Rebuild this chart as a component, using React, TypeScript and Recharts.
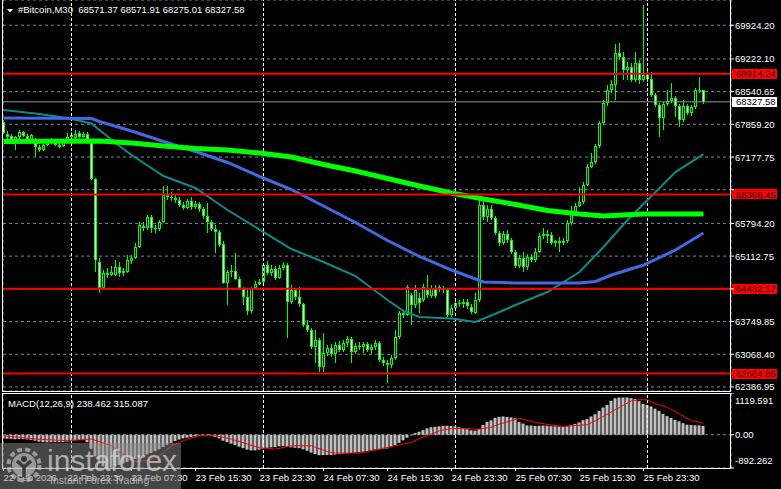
import { Bar, CartesianGrid, ComposedChart, Line, ReferenceLine, XAxis, YAxis } from "recharts";

const FONT = "'Liberation Sans', Arial, sans-serif";
const LIME = "#00ff00";
const GRID = "#778899";

// M30 bars, 22 Feb 15:30 .. 26 Feb 02:30
const OPEN = [67908, 67657, 67616, 67532, 67595, 67699, 67616, 67532, 67470, 67387, 67324, 67428, 67491, 67512, 67428, 67407, 67491, 67595, 67574, 67678, 67605, 67657, 67532, 66720, 64990, 64448, 64761, 64719, 64719, 64886, 64761, 64782, 65011, 65073, 65302, 65740, 65698, 65928, 65698, 65678, 65823, 66386, 66345, 66324, 66282, 66178, 66115, 66261, 66136, 66199, 66094, 65949, 65823, 65678, 65615, 65365, 64552, 64782, 64802, 64636, 64427, 64260, 63969, 64448, 64531, 64573, 64927, 64761, 64844, 64657, 64865, 64927, 64156, 64406, 64260, 64115, 63677, 63573, 63219, 63364, 62802, 63094, 63198, 63073, 63260, 63156, 63302, 63385, 63114, 63239, 63219, 63281, 63156, 63219, 63302, 62948, 62885, 62843, 62989, 63427, 63927, 63885, 64302, 64094, 64240, 64198, 64406, 64281, 64448, 64406, 64448, 64406, 63885, 64031, 64136, 64115, 64156, 64052, 63927, 64198, 66178, 65928, 66094, 65907, 65594, 65386, 65573, 65448, 65198, 64907, 65073, 64886, 65094, 65032, 65198, 65532, 65573, 65553, 65386, 65428, 65386, 65428, 65803, 66011, 66157, 66240, 66595, 66970, 67074, 67407, 67887, 68304, 68574, 68679, 69345, 69262, 68991, 69054, 68783, 69137, 68783, 68887, 68804, 68470, 68262, 67991, 68283, 68345, 68408, 68241, 67949, 68241, 68095, 68220, 68574, 68571.37];
const HIGH = [67949, 67710, 67657, 67616, 67741, 67720, 67657, 67657, 67574, 67428, 67449, 67532, 67574, 67553, 67491, 67532, 67678, 67699, 67741, 67720, 67699, 67699, 67553, 66740, 65073, 64823, 64865, 64907, 65032, 64990, 64865, 65136, 65136, 65386, 65823, 65823, 65969, 65969, 65761, 65865, 66574, 66574, 66449, 66407, 66345, 66240, 66303, 66345, 66261, 66240, 66136, 66220, 65865, 65761, 65657, 65428, 64823, 64927, 65178, 64677, 64469, 64448, 64469, 64594, 64636, 64969, 65011, 64927, 64907, 64927, 64990, 64969, 64511, 64448, 64469, 64136, 63781, 63615, 63573, 63406, 63510, 63260, 63281, 63323, 63344, 63364, 63448, 63427, 63302, 63323, 63323, 63323, 63281, 63364, 63344, 63010, 62948, 63052, 63573, 63969, 63990, 64511, 64344, 64511, 64344, 64531, 64719, 64511, 64511, 64511, 64490, 64448, 64094, 64198, 64198, 64219, 64219, 64115, 64344, 66282, 66261, 66178, 66178, 65949, 65636, 65636, 65657, 65490, 65240, 65136, 65198, 65157, 65157, 65282, 65594, 65698, 65657, 65615, 65448, 65511, 65490, 65865, 66157, 66220, 66553, 66657, 67032, 67262, 67449, 67928, 68366, 68679, 68783, 69533, 69554, 69366, 69158, 69137, 69366, 69200, 70346, 68991, 68950, 68512, 68304, 68324, 68574, 68720, 68449, 68283, 68366, 68283, 68262, 68616, 68845, 68571.91];
const LOW = [67657, 67501, 67512, 67324, 67553, 67595, 67512, 67512, 67184, 67282, 67303, 67407, 67449, 67407, 67366, 67387, 67470, 67532, 67553, 67574, 67574, 67491, 66699, 64782, 64344, 64406, 64657, 64698, 64698, 64677, 64698, 64761, 64948, 65052, 65282, 65636, 65657, 65594, 65594, 65636, 65803, 66282, 66261, 66220, 66136, 66074, 66094, 66074, 66094, 66032, 65886, 65594, 65636, 65178, 65302, 64531, 64094, 64677, 64615, 64406, 64094, 63885, 63927, 64427, 64511, 64552, 64719, 64698, 64615, 64636, 64823, 63406, 64115, 64198, 64052, 63635, 63531, 63177, 62885, 62698, 62698, 63031, 63010, 62885, 63114, 63114, 63219, 62885, 63073, 63156, 63094, 63114, 63073, 63156, 62906, 62823, 62468, 62781, 62948, 63385, 63823, 63865, 63677, 64031, 63927, 64156, 64240, 64240, 64240, 64365, 64344, 63844, 63844, 63990, 64052, 64031, 64010, 63906, 63906, 64156, 65865, 65823, 65865, 65553, 65323, 65344, 65386, 65157, 64865, 64865, 64782, 64823, 64990, 64990, 65178, 65469, 65386, 65344, 65302, 65198, 65344, 65386, 65761, 65990, 66136, 66199, 66574, 66949, 67032, 67366, 67845, 68241, 68512, 68366, 69200, 68783, 68783, 68741, 68741, 68699, 68741, 68741, 68429, 68220, 67595, 67741, 68241, 68304, 68012, 67803, 67908, 68053, 68033, 68178, 68512, 68275.01];
const CLOSE = [67678, 67605, 67532, 67595, 67699, 67616, 67532, 67637, 67397, 67324, 67428, 67491, 67532, 67428, 67397, 67491, 67595, 67637, 67668, 67605, 67657, 67532, 66720, 65032, 64448, 64761, 64719, 64782, 64886, 64761, 64802, 65032, 65073, 65302, 65761, 65698, 65928, 65698, 65678, 65823, 66386, 66345, 66324, 66282, 66178, 66115, 66261, 66136, 66199, 66094, 65949, 65823, 65678, 65615, 65344, 64552, 64782, 64802, 64636, 64448, 64260, 63969, 64448, 64531, 64573, 64927, 64761, 64844, 64657, 64865, 64927, 64156, 64406, 64260, 64115, 63677, 63573, 63219, 63364, 62802, 63094, 63198, 63073, 63260, 63156, 63302, 63385, 63114, 63239, 63219, 63281, 63156, 63219, 63302, 62948, 62885, 62843, 62989, 63427, 63927, 63885, 64469, 64094, 64406, 64136, 64469, 64302, 64448, 64281, 64469, 64406, 63885, 64031, 64136, 64115, 64156, 64073, 63948, 64198, 66178, 65928, 66094, 65907, 65594, 65386, 65573, 65448, 65198, 64907, 65073, 64886, 65094, 65032, 65198, 65532, 65573, 65532, 65386, 65428, 65386, 65428, 65803, 66011, 66157, 66240, 66595, 66970, 67074, 67407, 67887, 68304, 68574, 68699, 69345, 69262, 68991, 69054, 68783, 69137, 68783, 68887, 68804, 68470, 68262, 67991, 68283, 68345, 68408, 68241, 67949, 68241, 68095, 68220, 68574, 68571, 68327.58];

// [bar index, value]
const MA_LIME: [number, number][] = [[0, 67501], [24, 67512], [32, 67470], [40, 67407], [48, 67355], [56, 67324], [64, 67262], [72, 67178], [80, 67022], [88, 66886], [96, 66730], [104, 66574], [112, 66428], [120, 66303], [128, 66188], [136, 66063], [144, 65990], [150, 65949], [160, 65990], [175, 65990]];
const MA_BLUE: [number, number][] = [[0, 67991], [22, 67980], [24, 67918], [32, 67720], [40, 67501], [48, 67293], [56, 67064], [64, 66772], [72, 66501], [80, 66157], [88, 65813], [96, 65438], [104, 65105], [112, 64823], [120, 64573], [128, 64552], [144, 64552], [148, 64584], [152, 64719], [160, 64927], [168, 65240], [175, 65594]];
const MA_TEAL: [number, number][] = [[0, 68158], [8, 68085], [16, 67991], [22, 67876], [24, 67741], [28, 67470], [32, 67220], [40, 66782], [48, 66532], [56, 66074], [64, 65667], [72, 65261], [80, 64990], [88, 64698], [96, 64198], [100, 63969], [104, 63844], [112, 63812], [118, 63740], [124, 63948], [128, 64094], [136, 64365], [144, 64781], [150, 65302], [156, 65865], [160, 66199], [168, 66865], [175, 67240]];

const MACD_MAIN = [-100, -105, -110, -120, -115, -115, -125, -140, -160, -185, -200, -205, -200, -195, -200, -195, -180, -165, -150, -140, -135,
  -200, -380, -580, -750, -850, -892, -880, -850, -810, -770, -730, -690, -650, -610, -570, -530, -490, -440, -390, -330, -270, -220, -170, -130, -100,
  -80, -60, -45, -30, -25, -25, -35, -60, -100, -160, -200, -240, -280, -320, -360, -400, -420, -420, -400,
  -370, -350, -340, -330, -310, -300, -320, -340, -350, -360, -390, -430, -480, -520, -550, -545, -545, -540, -530, -520, -510, -500, -490, -480, -470, -455, -440, -420, -400, -390, -385, -370, -330, -280, -220, -150, -80,
  -20, 45, 80, 120, 170, 200, 215, 225, 235, 240, 235, 225, 200, 170, 145, 120, 110, 160, 260, 340, 385, 455, 480, 490, 475, 465, 440, 340,
  300, 250, 245, 235, 240, 245, 240, 230, 225, 220, 215, 225, 260, 290, 330, 390, 420, 490, 550, 640, 730, 800, 910, 980, 1000, 1000, 1000, 980, 960, 900, 830, 800, 760, 700, 640, 560, 500, 450, 400, 360, 310, 270, 260, 255, 250, 238.462];
const MACD_SIGNAL: [number, number][] = [[0, -27], [8, -116], [16, -161], [22, -116], [27, -295], [31, -607], [33, -714], [36, -697], [39, -563], [42, -295], [46, -116], [49, -27], [53, -27], [57, -116], [64, -350], [68, -384], [72, -295], [77, -295], [78, -339], [81, -455], [83, -491], [89, -491], [91, -455], [94, -384], [98, -295], [102, -205], [104, -98], [107, 18], [109, 107], [112, 170], [117, 170], [118, 134], [122, 205], [124, 286], [127, 375], [129, 438], [133, 330], [137, 259], [140, 223], [142, 241], [146, 268], [148, 375], [151, 554], [154, 732], [157, 911], [159, 938], [161, 938], [162, 866], [166, 732], [169, 554], [172, 375], [175, 315.087]];

const PRICE_TICKS = [69924.2, 69222.1, 68540.65, 67859.2, 67177.75, 66496.3, 65794.2, 65112.75, 64431.3, 63749.85, 63068.4, 62386.95];
// ticks whose labels sit under a level box
const COVERED_TICKS = [66496.3, 64431.3];
const LEVELS = [68914.24, 66398.45, 64432.17, 62664.86];
const LAST_PRICE = 68327.58;
const MACD_TICKS = [1119.591, 0, -892.262];
const DAY_STARTS = [17, 65, 113, 161];
const GRID_BARS = [8, 16, 24, 32, 40, 48, 56, 64, 72, 80, 88, 96, 104, 112, 120, 128, 136, 144, 152, 160, 168, 176];
const TIME_BARS = [0, 16, 32, 48, 64, 80, 96, 112, 128, 144, 160];
const TIME_LABELS = ["22 Feb 2026", "22 Feb 23:30", "23 Feb 07:30", "23 Feb 15:30", "23 Feb 23:30", "24 Feb 07:30", "24 Feb 15:30", "24 Feb 23:30", "25 Feb 07:30", "25 Feb 15:30", "25 Feb 23:30"];

const X_DOMAIN: [number, number] = [-0.125, 181.875];
const candles = OPEN.map((o, i) => ({ i, o, h: HIGH[i], l: LOW[i], c: CLOSE[i] }));
const macdData = MACD_MAIN.map((m, i) => ({ i, m }));
const toPts = (a: [number, number][]) => a.map(([i, v]) => ({ i, v }));

function Candle(props: any) {
  const { x, y, width, height, payload } = props;
  if (x == null || !payload) return null;
  const cx = x + width / 2;
  const top = Math.min(y, y + height);
  const span = Math.abs(height);
  const { o, h, l, c } = payload;
  const k = h === l ? 0 : span / (h - l);
  const yO = top + (h - o) * k;
  const yC = top + (h - c) * k;
  const bTop = Math.round(Math.min(yO, yC));
  const bh = Math.max(1, Math.round(Math.max(yO, yC)) - bTop);
  const x0 = Math.round(cx - 1.5);
  return (
    <g shapeRendering="crispEdges">
      <rect x={x0 + 1} y={Math.round(top)} width={1} height={Math.max(1, Math.round(span))} fill={LIME} />
      <rect x={x0} y={bTop} width={3} height={bh} fill={LIME} />
      {bh > 2 && <rect x={x0 + 1} y={bTop + 1} width={1} height={bh - 2} fill={c >= o ? "#000" : "#fff"} />}
    </g>
  );
}

const PriceTick = ({ x, y, payload }: any) => {
  const v = Number(payload.value);
  if (COVERED_TICKS.includes(v)) return <g />;
  return <text x={x} y={y} dy={3.5} fill="#fff" fontSize={9.5} fontFamily={FONT}>{v.toFixed(2)}</text>;
};

const MacdTick = ({ x, y, payload }: any) => {
  const v = Number(payload.value);
  const dy = v > 0 ? 11 : v < 0 ? -4 : 3.5;
  return <text x={x} y={y} dy={dy} fill="#fff" fontSize={9.5} fontFamily={FONT}>{v === 0 ? "0.00" : v.toFixed(3)}</text>;
};

const TimeTick = ({ x, y, payload }: any) => {
  const idx = TIME_BARS.indexOf(payload.value);
  if (idx < 0) return null;
  return (
    <g>
      <line x1={x} x2={x} y1={y} y2={y + 3} stroke="#fff" />
      <text x={x} y={y + 12.5} fill="#fff" fontSize={9.5} fontFamily={FONT}>{TIME_LABELS[idx]}</text>
    </g>
  );
};

const LevelLabel = ({ viewBox, price, boxFill, textFill }: any) => {
  if (!viewBox) return null;
  const left = viewBox.x + viewBox.width + 1;
  const y = viewBox.y;
  return (
    <g>
      <rect x={left} y={Math.round(y - 5)} width={45} height={10} fill={boxFill} />
      <text x={left + 4} y={y} dy={3.5} style={{ fill: textFill }} fontSize={9.5} fontFamily={FONT}>{price.toFixed(2)}</text>
    </g>
  );
};

export default function App() {
  return (
    <div style={{ position: "absolute", left: 0, top: 0, width: 781, height: 489, background: "#000", overflow: "hidden" }}>
      <div style={{ position: "absolute", left: 0, top: 0 }}>
        <ComposedChart width={781} height={391} data={candles} margin={{ top: 0, right: 0, left: 3, bottom: 0 }}>
          <CartesianGrid stroke={GRID} strokeDasharray="3 3" />
          <XAxis type="number" dataKey="i" domain={X_DOMAIN} ticks={GRID_BARS} interval={0} allowDataOverflow height={0} tick={false} axisLine={false} tickLine={false} />
          <YAxis orientation="right" type="number" domain={[62302, 70450]} allowDataOverflow ticks={PRICE_TICKS} interval={0} width={50} axisLine={false} tickSize={3} tickMargin={1} tickLine={{ stroke: "#fff" }} tick={<PriceTick />} />
          {DAY_STARTS.map((d) => <ReferenceLine key={d} x={d} stroke="#fff" strokeDasharray="3 2" />)}
          <ReferenceLine y={LAST_PRICE} stroke="#8c96a0" label={<LevelLabel price={LAST_PRICE} boxFill="#fff" textFill="#000" />} />
          <Line data={toPts(MA_TEAL)} dataKey="v" stroke="#0f8a8a" strokeWidth={2} dot={false} isAnimationActive={false} />
          <Line data={toPts(MA_BLUE)} dataKey="v" stroke="#4169e1" strokeWidth={3} dot={false} isAnimationActive={false} />
          <Line data={toPts(MA_LIME)} dataKey="v" stroke={LIME} strokeWidth={5} dot={false} isAnimationActive={false} />
          <Bar dataKey={(d: any) => [d.l, d.h]} barSize={3} shape={<Candle />} isAnimationActive={false} />
          {LEVELS.map((lv) => <ReferenceLine key={lv} y={lv} stroke="#ff0000" strokeWidth={2} label={<LevelLabel price={lv} boxFill="#ff0000" textFill="#2a0000" />} />)}
        </ComposedChart>
      </div>
      <div style={{ position: "absolute", left: 0, top: 393 }}>
        <ComposedChart width={781} height={96} data={macdData} margin={{ top: 0, right: 0, left: 3, bottom: 0 }}>
          <CartesianGrid stroke={GRID} strokeDasharray="3 3" />
          <XAxis type="number" dataKey="i" domain={X_DOMAIN} ticks={GRID_BARS} interval={0} allowDataOverflow height={0} tick={false} axisLine={false} tickLine={false} />
          <XAxis xAxisId="t" type="number" dataKey="i" domain={X_DOMAIN} ticks={TIME_BARS} interval={0} allowDataOverflow height={21} tickSize={0} tickMargin={0} axisLine={false} tick={<TimeTick />} />
          <YAxis orientation="right" type="number" domain={[-892.262, 1119.591]} allowDataOverflow ticks={MACD_TICKS} interval={0} width={50} axisLine={false} tickSize={3} tickMargin={1} tickLine={{ stroke: "#fff" }} tick={<MacdTick />} />
          {DAY_STARTS.map((d) => <ReferenceLine key={d} x={d} stroke="#fff" strokeDasharray="3 2" />)}
          <Bar dataKey="m" fill="#c0c0c0" barSize={3} isAnimationActive={false} />
          <Line data={toPts(MACD_SIGNAL)} dataKey="v" stroke="#ff0000" strokeWidth={1} dot={false} isAnimationActive={false} />
        </ComposedChart>
      </div>
      <svg width={781} height={489} style={{ position: "absolute", left: 0, top: 0, pointerEvents: "none" }}>
        <g stroke="#fff" strokeWidth={1} shapeRendering="crispEdges">
          <line x1={2.5} y1={0} x2={2.5} y2={391.5} />
          <line x1={2.5} y1={391.5} x2={730.5} y2={391.5} />
          <line x1={730.5} y1={0} x2={730.5} y2={391.5} />
          <rect x={2.5} y={393.5} width={728} height={75} fill="none" />
        </g>
        <polygon points="7,9 13,9 10,12.5" fill="#fff" />
        <text x={18} y={13} fill="#fff" fontSize={9.5} fontFamily={FONT} style={{ whiteSpace: "pre" }}>{"#Bitcoin,M30  68571.37 68571.91 68275.01 68327.58"}</text>
        <text x={8} y={406.5} fill="#fff" fontSize={9.5} fontFamily={FONT}>MACD(12,26,9) 238.462 315.087</text>
        <g>
          <rect x={0} y={443} width={181} height={46} fill="#8a8a8a" fillOpacity={0.5} />
          <circle cx={24} cy={465} r={15.5} fill="none" stroke="#d0d0d0" strokeOpacity={0.6} strokeWidth={4} strokeDasharray="5 3.2" />
          <circle cx={24} cy={465} r={12} fill="#d0d0d0" fillOpacity={0.6} />
          <circle cx={24} cy={459} r={3} fill="#3a3a3a" />
          <path d="M17 461 L24 467 L31 461 M24 467 L24 477" stroke="#3a3a3a" strokeWidth={3.5} fill="none" />
          <text x={47} y={471} fill="#dcdcdc" fillOpacity={0.7} fontSize={30} fontFamily={FONT}>instaforex</text>
          <text x={50} y={484} fill="#dcdcdc" fillOpacity={0.7} fontSize={10.5} fontFamily={FONT}>Instant Forex Trading</text>
        </g>
      </svg>
    </div>
  );
}
